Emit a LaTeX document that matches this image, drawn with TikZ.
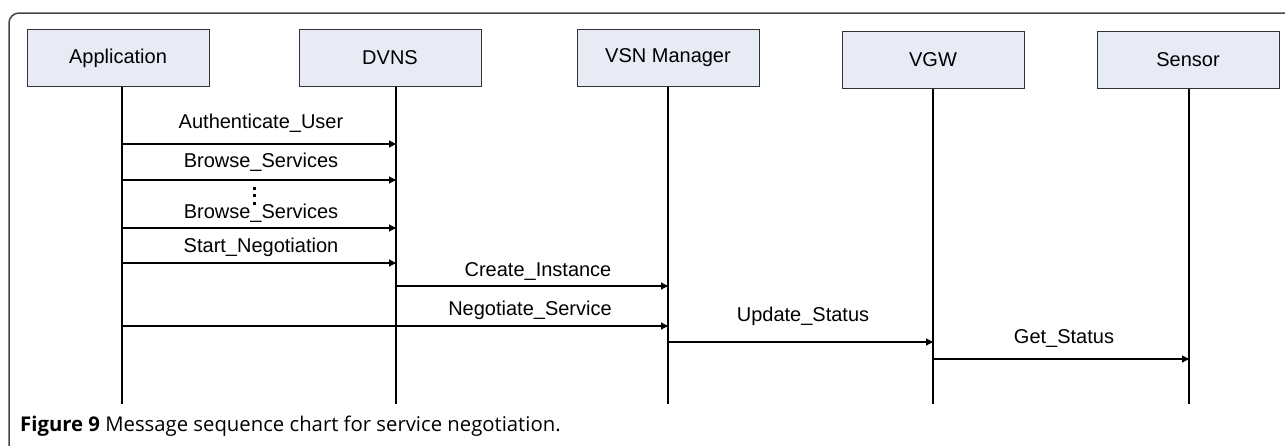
\documentclass[tikz,border=0pt]{standalone}
\usepackage{fontspec}
\setmainfont{Liberation Sans}
\newfontfamily\capfont{Open Sans}
\usetikzlibrary{arrows.meta}
\definecolor{boxfill}{RGB}{230,235,246}
\definecolor{framegray}{RGB}{70,70,70}
\begin{document}
\begin{tikzpicture}[x=1pt,y=-1pt,
  actor/.style={draw=black!80, line width=1pt, fill=boxfill, minimum width=182pt,
    minimum height=57pt, inner sep=0pt, font=\fontsize{20}{24}\selectfont},
  life/.style={line width=1.2pt},
  msg/.style={line width=1.2pt, -{Triangle[length=7pt,width=7pt]}},
  lbl/.style={font=\fontsize{20}{24}\selectfont, inner sep=0pt, anchor=base},
  dot/.style={fill=black},
]
\useasboundingbox (0,0) rectangle (1285,445);
% frame
\draw[framegray, line width=1.5pt, rounded corners=10pt] (9,446) -- (9,13) -- (1286,13);

% actors
\node[actor] (app)    at (118,58) {Application};
\node[actor] (dvns)   at (390,58) {DVNS};
\node[actor] (vsn)    at (668,58) {VSN Manager};
\node[actor] (vgw)    at (933,60) {VGW};
\node[actor] (sensor) at (1188,60) {Sensor};

% lifeline tops and bottoms
\coordinate (appT) at (122,86.5);   \coordinate (appB) at (122,404);
\coordinate (dvnsT) at (396,86.5);  \coordinate (dvnsB) at (396,404);
\coordinate (vsnT) at (668,86.5);   \coordinate (vsnB) at (668,404);
\coordinate (vgwT) at (933,88.5);   \coordinate (vgwB) at (933,404);
\coordinate (senT) at (1189,88.5);  \coordinate (senB) at (1189,404);
\draw[life] (appT) -- (appB);
\draw[life] (dvnsT) -- (dvnsB);
\draw[life] (vsnT) -- (vsnB);
\draw[life] (vgwT) -- (vgwB);
\draw[life] (senT) -- (senB);

% message levels
\coordinate (m1) at (0,144);
\coordinate (m2) at (0,180);
\coordinate (m3) at (0,228);
\coordinate (m4) at (0,263);
\coordinate (m5) at (0,286);
\coordinate (m6) at (0,326);
\coordinate (m7) at (0,342);
\coordinate (m8) at (0,359);

\draw[msg] (appT |- m1) -- (dvnsT |- m1);
\draw[msg] (appT |- m2) -- (dvnsT |- m2);
\draw[msg] (appT |- m3) -- (dvnsT |- m3);
\draw[msg] (appT |- m4) -- (dvnsT |- m4);
\draw[msg] (dvnsT |- m5) -- (vsnT |- m5);
\draw[msg] (appT |- m6) -- (vsnT |- m6);
\draw[msg] (vsnT |- m7) -- (vgwT |- m7);
\draw[msg] (vgwT |- m8) -- (senT |- m8);

% labels
\node[lbl] (l1) at (261,128) {Authenticate\_User};
\node[lbl] (l2) at (261,167) {Browse\_Services};
\node[lbl] (l3) at (261,218) {Browse\_Services};
\node[lbl] (l4) at (261,252) {Start\_Negotiation};
\node[lbl] (l5) at (538,276) {Create\_Instance};
\node[lbl] (l6) at (530,315) {Negotiate\_Service};
\node[lbl] (l7) at (803,321) {Update\_Status};
\node[lbl] (l8) at (1064,343) {Get\_Status};

% vertical ellipsis
\fill[dot] (252.5,187) rectangle +(3,3);
\fill[dot] (252.5,194) rectangle +(3,3);
\fill[dot] (252.5,202) rectangle +(3,3);

% caption
\node[anchor=base west, inner sep=0pt, font=\capfont\fontsize{20.3}{24}\selectfont] (cap) at (20,431)
  {\textbf{Figure 9} Message sequence chart for service negotiation.};
\end{tikzpicture}
\end{document}
